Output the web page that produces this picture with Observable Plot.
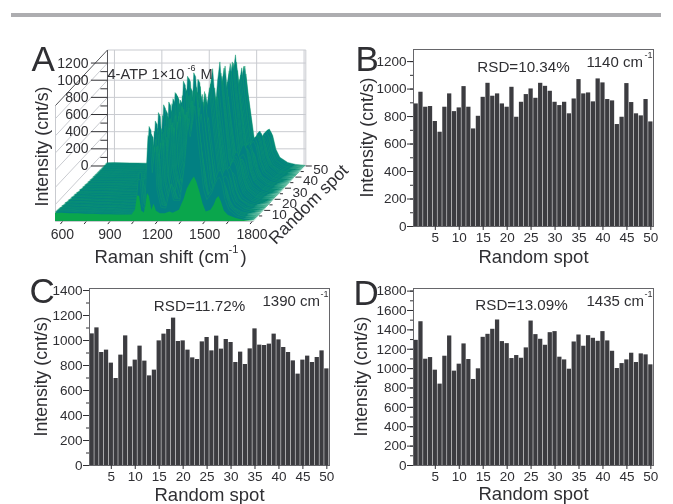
<!DOCTYPE html>
<html><head><meta charset="utf-8">
<script src="https://cdn.jsdelivr.net/npm/d3@7"></script>
<script src="https://cdn.jsdelivr.net/npm/@observablehq/plot@0.6"></script>
<style>
html,body{margin:0;padding:0;background:#fff;width:673px;height:504px;overflow:hidden}
#page{position:relative;width:673px;height:504px;filter:blur(0.35px)}
#band{position:absolute;left:11px;top:13px;width:650px;height:4px;background:#adadb0}
.p{position:absolute}
.p svg{display:block;background:transparent;overflow:visible}
</style></head><body><div id="page"><div id="band"></div></div>
<script>
const spots = d3.range(1, 51);
const tick5 = [5,10,15,20,25,30,35,40,45,50];
const valuesB = [892,977,868,873,764,686,868,965,836,863,1018,868,710,802,940,1042,948,965,892,868,1013,795,904,960,1001,933,1042,1020,984,904,880,904,820,928,1069,965,972,907,1074,1045,924,914,742,795,1040,902,820,805,924,761];
const valuesC = [1053,1101,904,923,819,696,883,1037,789,843,955,835,717,763,997,1051,1088,1179,992,997,923,861,848,989,1024,917,1035,931,1008,984,824,907,808,933,1093,963,960,971,1051,1005,944,904,837,731,843,875,824,864,917,773];
const valuesD = [1292,1484,1097,1114,984,840,1128,1337,974,1046,1255,1094,888,998,1323,1354,1406,1502,1279,1258,1104,1135,1107,1214,1491,1351,1303,1241,1371,1382,1118,1090,994,1275,1347,1231,1340,1313,1282,1382,1286,1179,1001,1052,1090,1159,1063,1152,1142,1039];

// Panel A: Raman spectrum
const shift =    [556,600,650,700,750,800,850,900,950,1000,1040,1062,1075,1088,1102,1118,1128,1138,1150,1165,1180,1195,1220,1250,1280,1300,1340,1370,1390,1405,1420,1435,1450,1470,1490,1510,1540,1560,1575,1590,1605,1625,1650,1700,1750,1800,1811];
const meanSpec = [100,105,100,95,90,85,80,80,75,70,65,110,430,440,150,120,620,1000,960,560,860,360,150,140,340,200,200,580,980,850,1050,1230,950,640,330,220,290,380,440,460,400,220,110,40,15,4,0];
const bandRef =  "aaaaaaaaaaaDDDDDBBBBBBBBCCCCCCDDDDDDDDDDDDDDDDD".split("");
const bgLevel = [1,1,.95,.95,.92,.85,.9,.82,.8,.85,.78,.72,.78,.7,.66,.72,.62,.6,.66,.56,.6,.54,.5,.56,.5,.46,.5,.44,.48,.44,.4,.44,.38,.42,.38,.36,.4,.36,.38,.34,.36,.34,.36,.32,.34,.32,.34,.32,.34,.32];
const frontFace = [95,95,90,90,85,85,80,80,75,75,75,130,300,290,120,100,180,325,290,130,200,120,90,90,110,95,130,260,380,430,480,520,460,340,200,110,130,190,260,290,230,120,70,35,12,3,0];
const waterfallOrder = d3.range(50, 0, -1);

const xPerSpot = 6.58, yPerSpot = 12.94;
const series = {B: valuesB, C: valuesC, D: valuesD};
const means = {B: d3.mean(valuesB), C: d3.mean(valuesC), D: d3.mean(valuesD)};
const gain = (i, s) => bandRef[i] === "a" ? bgLevel[s-1] : series[bandRef[i]][s-1] / means[bandRef[i]];
const rows = waterfallOrder.flatMap(s => shift.map((v, i) => ({
  spot: s, X: v + s*xPerSpot, floor: s*yPerSpot, top: s*yPerSpot + meanSpec[i]*gain(i, s)
})));
const front = shift.map((v, i) => ({X: v, floor: 0, top: frontFace[i]}));
const P = (v, s, h=0) => ({X: v + s*xPerSpot, Y: h + s*yPerSpot});
const FONT = "'Liberation Sans', Arial, sans-serif";
const ink = "#2f2f33";

function place(el, ox, oy){ const d=document.createElement("div"); d.className="p"; d.style.left=ox+"px"; d.style.top=oy+"px"; d.appendChild(el); document.getElementById("page").appendChild(d); }
const note = (t, dx, dy, size, extra={}) => Plot.text([t], {frameAnchor:"top-left", textAnchor:"start", dx, dy, fontSize:size, fill:ink, lineAnchor:"middle", ...extra});

// ---------- Panel A ----------
const wallTicks = d3.range(0, 1300, 100);
const wallMajor = d3.range(0, 1300, 200);
const gridV = [600,900,1200,1500,1800];
const floorTicks = [600,750,900,1050,1200,1350,1500,1650,1800];
const floorLabels = [600,900,1200,1500,1800];
const depthLabels = [10,20,30,40,50];
const wallTop = 1352, xL = 556, xR = 1811;
const corner = (v, s, h) => { const p = P(v, s, h); return [p.X, p.Y]; };
const seg = (a, b) => ({x1:a[0], y1:a[1], x2:b[0], y2:b[1]});

const gridLines = [
  ...gridV.map(v => seg(corner(v,50,0), corner(v,50,wallTop))),
  ...wallMajor.map(h => seg(corner(xL,50,h), corner(xR,50,h))),
  ...wallMajor.map(h => seg(corner(xL,0,h), corner(xL,50,h))),
  seg(corner(xL,50,wallTop), corner(xR,50,wallTop)),
  seg(corner(xR,50,0), corner(xR,50,wallTop)),
  seg(corner(xL,0,0), corner(xR,0,0)),
  seg(corner(xL,0,0), corner(xL,0,wallTop))
];
const darkLines = [
  seg(corner(xL,50,0), corner(xL,50,wallTop)),
  seg(corner(xL,0,wallTop), corner(xL,50,wallTop))
];
const link = (d, o) => Plot.link(d, {x1:"x1", y1:"y1", x2:"x2", y2:"y2", ...o});

const plotA = Plot.plot({
  width:340, height:270, margin:0, style:{fontFamily:FONT, background:"transparent"},
  x:{domain:[556,2138], range:[55,305], axis:null},
  y:{domain:[0,2005], range:[221,49], axis:null},
  marks:[
    link(gridLines, {stroke:"#c9cbd0", strokeWidth:1}),
    link(darkLines, {stroke:"#55565a", strokeWidth:1}),
    link(wallTicks.map(h => { const p=corner(xL,50,h); return seg(p,[p[0]-(h%200===0?105:45),p[1]]); }), {stroke:ink, strokeWidth:1}),
    Plot.text(wallMajor, {x:()=>P(xL,50).X, y:h=>P(xL,50,h).Y, text:d=>String(d), dx:-19, textAnchor:"end", fontSize:14, fill:ink, lineAnchor:"middle"}),
    Plot.areaY(rows, {x:"X", y1:"floor", y2:"top", z:"spot", fill:"#028082", stroke:"#0f9a6c", strokeWidth:0.45, curve:"linear"}),
    Plot.areaY(front, {x:"X", y1:"floor", y2:"top", fill:"#0aa64c"}),
    link(floorTicks.map(v => seg(corner(v,0,0), [v-13,-30])), {stroke:ink, strokeWidth:1}),
    link(spots.filter(s=>s%5===0).map(s => { const p=corner(xR,s,0); return seg(p,[p[0]+(s%10===0?38:20),p[1]]); }), {stroke:ink, strokeWidth:1}),
    Plot.text(floorLabels, {x:d=>d, y:()=>0, text:d=>String(d), dy:13, fontSize:14, fill:ink, lineAnchor:"middle"}),
    Plot.text(depthLabels, {x:s=>P(xR,s).X, y:s=>P(xR,s).Y, text:d=>String(d), dx:15, dy:4, fontSize:13.5, fill:ink, lineAnchor:"middle"}),
    note("A", 31, 59, 35),
    note("4-ATP 1×10", 107, 74, 14.6),
    note("-6", 187, 68, 9),
    note("M", 200, 74, 14.6),
    note("Intensity (cnt/s)", 42, 146, 17.7, {rotate:-90, textAnchor:"middle"}),
    note("Raman shift (cm", 94, 257, 18.5),
    note("-1", 228, 249, 11),
    note(")", 240, 257, 18.5),
    note("Random spot", 308, 204, 17.5, {rotate:-45, textAnchor:"middle"})
  ]
});
place(plotA, 0, 0);

// ---------- Bar panels ----------
function barPanel(o){
  const minor = d3.range(0, o.top, 100), major = d3.range(0, o.top, 200);
  return Plot.plot({
    width:o.w, height:o.h, marginLeft:o.l, marginRight:o.w-o.l-240, marginTop:o.t, marginBottom:o.h-o.t-177,
    style:{fontFamily:FONT, background:"transparent"},
    x:{type:"band", domain:spots, padding:0.11, round:false, align:0.5, label:null, axis:null},
    y:{domain:[0,o.top], label:null, axis:null},
    marks:[
      Plot.barY(spots, {x:d=>d, y:d=>o.values[d-1], fill:"#3c3c40"}),
      Plot.frame({stroke:"#66666a", strokeWidth:1}),
      Plot.axisX(tick5, {anchor:"bottom", tickSize:4, tickPadding:2, fontSize:13.5, label:null, stroke:ink, fill:ink}),
      Plot.axisY(minor, {anchor:"left", tickSize:3, fill:"none", label:null, stroke:ink}),
      Plot.axisY(major, {anchor:"left", tickSize:6, tickPadding:1, fontSize:13.5, label:null, stroke:ink, fill:ink, tickFormat:d3.format("d")}),
      note(o.letter, o.letterX, o.letterY, 35),
      note(o.rsd, o.rsdX, o.rsdY, 15.2, {textAnchor:"middle"}),
      note(o.band, 173, o.bandY, 15),
      note("-1", 231, o.bandY-7, 9),
      note("Intensity (cnt/s)", o.yLabX, 88, 17.7, {rotate:-90, textAnchor:"middle"}),
      note("Random spot", 120, o.xLabY, 18.5, {textAnchor:"middle"})
    ]
  });
}
place(barPanel({w:333,h:270,l:73,t:49,top:1288,values:valuesB,letter:"B",letterX:-58,letterY:10,rsd:"RSD=10.34%",rsdX:110,rsdY:18,band:"1140 cm",bandY:13,yLabX:-46,xLabY:208}),340,0);
place(barPanel({w:340,h:234,l:89,t:18,top:1416,values:valuesC,letter:"C",letterX:-60,letterY:3,rsd:"RSD=11.72%",rsdX:110,rsdY:18,band:"1390 cm",bandY:13,yLabX:-48,xLabY:207}),0,270);
place(barPanel({w:333,h:234,l:73,t:18,top:1827,values:valuesD,letter:"D",letterX:-60,letterY:5,rsd:"RSD=13.09%",rsdX:108,rsdY:17,band:"1435 cm",bandY:13,yLabX:-52,xLabY:206}),340,270);
</script></body></html>
